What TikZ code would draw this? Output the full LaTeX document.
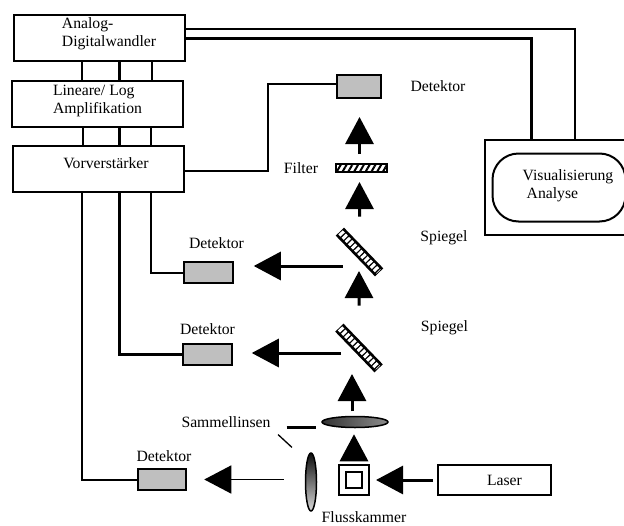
\documentclass[tikz,border=0pt]{standalone}
\usepackage{fontspec}
\setmainfont{Liberation Serif}
\usepackage{tikz}
\usetikzlibrary{positioning,arrows.meta,shapes.geometric,patterns.meta}
\definecolor{detgray}{HTML}{BFBFBF}

\begin{document}
\begin{tikzpicture}[
  on grid,
  font=\fontsize{15.7}{18}\selectfont,
  box/.style={draw=black, fill=white, line width=2pt, inner sep=0pt, minimum width=171pt, minimum height=46pt},
  det/.style={draw=black, fill=detgray, line width=2pt, inner sep=0pt, minimum width=48.5pt, minimum height=21pt},
  mirror/.style={draw=black, fill=black, line width=1.5pt, inner sep=0pt, minimum width=55pt, minimum height=10pt, rotate=-46},
  lens/.style={ellipse, draw=black, line width=1.5pt, inner sep=0pt},
  lbl/.style={inner sep=0pt, align=left},
  wire/.style={line width=2pt},
  fatwire/.style={line width=3pt},
  arr/.style={-{Triangle[length=27pt,width=28pt]}, line width=3pt}
]
\useasboundingbox (0,0) rectangle (624pt,-525pt);
% electronics
\node[box] (adc) at (99.5pt,-38pt) {};
\node[box, below=66pt of adc, xshift=-2pt] (lin) {};
\node[box, below=64.5pt of lin, xshift=1pt] (vor) {};
\node[lbl] (adctxt) at ([xshift=9.5pt,yshift=4pt]adc) {Analog-\\Digitalwandler};
\node[lbl] (lintxt) at ([yshift=3.5pt]lin) {Lineare/ Log\\Amplifikation};
\node[lbl] (vortxt) at ([xshift=7.5pt,yshift=5.5pt]vor) {Vorverstärker};
% visualisation
\node[box, minimum width=142pt, minimum height=95pt] (vis) at (556pt,-187.5pt) {};
\node[draw=black, line width=2pt, inner sep=0pt, rounded corners=26pt, minimum width=133pt, minimum height=68pt, right=3pt of vis] (anl) {};
\node[lbl] (anltxt) at ([xshift=9pt,yshift=1.5pt]anl) {Visualisierung\\\hspace*{4pt}Analyse};
% optics, bottom to top
\node[box, minimum width=113pt, minimum height=30pt] (laser) at (494.5pt,-480pt) {};
\node[lbl] (lasertxt) at ([xshift=10pt]laser) {Laser};
\node[draw=black, line width=2pt, inner sep=0pt, minimum size=30pt, left=140.5pt of laser] (cell) {};
\node[draw=black, line width=2pt, inner sep=0pt, minimum size=16pt] (cellin) at (cell) {};
\node[lens, minimum width=66pt, minimum height=11pt, left color=black!80, right color=black!45, above=58pt of cell, xshift=1pt] (lensH) {};
\node[lens, minimum width=11pt, minimum height=58pt, top color=black!95, bottom color=black!15, left=43pt of cell, yshift=-2pt] (lensV) {};
\node[xshift=4pt, mirror, above=74pt of lensH] (mirB) {};
\node[xshift=0.5pt, mirror, above=96pt of mirB] (mirA) {};
\node[draw=black, line width=1.5pt, inner sep=0pt, minimum width=51pt, minimum height=8pt, pattern={Lines[angle=60,distance=5pt,line width=2pt]}, above=84pt of mirA, xshift=2pt] (filter) {};
\foreach \m in {mirA,mirB}
  \draw[white, line width=6pt, dash pattern=on 3pt off 1.5pt, shorten <=1pt, shorten >=1pt] (\m.west) -- (\m.east);
% detectors
\node[det, minimum width=44pt, minimum height=23pt, above=81.5pt of filter, xshift=-2.5pt] (detT) {};
\node[det, left=151pt of mirA, yshift=-20.5pt] (detA) {};
\node[det, left=151.5pt of mirB, yshift=-6.5pt] (detB) {};
\node[det, left=149pt of lensV, yshift=2.5pt] (detC) {};
% labels
\node[lbl, right=79pt of detT] (detTtxt) {Detektor};
\node[lbl, above=29.5pt of detA, xshift=8pt] (detAtxt) {Detektor};
\node[lbl, above=25.5pt of detB] (detBtxt) {Detektor};
\node[lbl, above=23.5pt of detC, xshift=2pt] (detCtxt) {Detektor};
\node[lbl, left=60.5pt of filter] (filtertxt) {Filter};
\node[lbl, above right=14pt and 84.5pt of mirA] (mirAtxt) {Spiegel};
\node[lbl, above right=20pt and 85.5pt of mirB] (mirBtxt) {Spiegel};
\node[lbl, left=129pt of lensH] (samm) {Sammellinsen};
\node[lbl, below=37pt of cell, xshift=10pt] (flow) {Flusskammer};
% wires between the boxes
\foreach \dx/\lw in {-17.5pt/2pt,19.5pt/3pt,52pt/2pt}
  \draw[line width=\lw] ([xshift=\dx]adc.south) -- ([xshift=\dx]adc.south |- lin.north);
\foreach \dx/\lw in {-15pt/2pt,21.5pt/3pt,53pt/2pt}
  \draw[line width=\lw] ([xshift=\dx]lin.south) -- ([xshift=\dx]lin.south |- vor.north);
\draw[wire] ([yshift=9pt]adc.east) -| ([xshift=19pt]vis.north);
\draw[fatwire] (adc.east) -| ([xshift=-25pt]vis.north);
\draw[wire] ([yshift=-2.5pt]vor.east) -- ++(83pt,0) |- ([yshift=2.5pt]detT.west);
\draw[wire] ([xshift=52.5pt]vor.south) |- (detA.west);
\draw[fatwire] ([xshift=20.5pt]vor.south) |- (detB.west);
\draw[wire] ([xshift=-16.5pt]vor.south) |- (detC.west);
% light path
\draw[arr, shorten <=4pt, shorten >=6pt] (laser.west) -- (laser.west -| cell.east);
\draw[arr, shorten <=4pt, shorten >=6pt] (cell.north) -- (cell.north |- lensH.south);
\draw[arr, shorten <=4.5pt, shorten >=26pt] ([xshift=-3pt]lensH.north) -- ([xshift=-3pt]lensH.north |- mirB);
\draw[arr, shorten <=34pt, shorten >=19pt] (mirB) -- (mirB |- mirA);
\draw[arr, shorten <=27pt, shorten >=9pt] (mirA) -- (mirA |- filter.south);
\draw[arr, shorten <=9pt, shorten >=18pt] (mirA |- filter.north) -- (mirA |- detT.south);
\draw[arr, shorten <=17pt, shorten >=20pt] ([yshift=-14pt]mirA.center) -- ([yshift=-14pt]mirA.center -| detA.east);
\draw[arr, shorten <=18pt, shorten >=19pt] ([yshift=-5pt]mirB.center) -- ([yshift=-5pt]mirB.center -| detB.east);
\draw[arr, line width=1.5pt, shorten <=21pt, shorten >=17pt] (detC.east -| lensV.west) -- (detC.east);
% pointers from the lens label
\draw[fatwire, shorten <=16pt, shorten >=5pt] ([yshift=-5pt]samm.east) -- ([yshift=-5pt]lensH.west);
\draw[line width=1.3pt, shorten <=10pt, shorten >=20pt] (samm.south east) -- (lensV.north west);
\end{tikzpicture}
\end{document}
